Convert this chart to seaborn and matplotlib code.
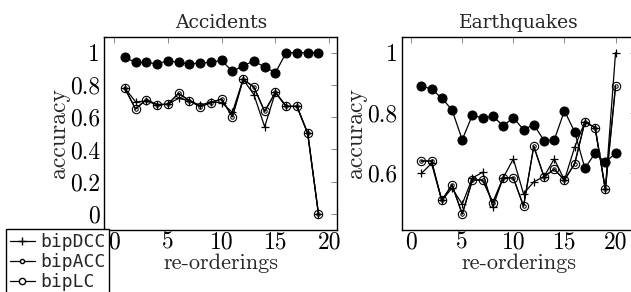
import matplotlib
matplotlib.use("Agg")
import matplotlib.pyplot as plt
import seaborn as sns
import pandas as pd
from matplotlib.ticker import FuncFormatter
from matplotlib.lines import Line2D

sns.set_style("white")
plt.rcParams["font.family"] = ["cmr10", "DejaVu Serif"]
plt.rcParams["axes.formatter.use_mathtext"] = True

# ---------------- data ----------------
acc_x = list(range(1, 20))
acc_top = [0.971, 0.940, 0.940, 0.930, 0.950, 0.940, 0.930, 0.936, 0.940, 0.952,
           0.884, 0.919, 0.948, 0.911, 0.876, 1.0, 1.0, 1.0, 1.0]
acc_dcc = [0.781, 0.696, 0.700, 0.678, 0.680, 0.717, 0.703, 0.674, 0.696, 0.690,
           0.630, 0.835, 0.740, 0.541, 0.754, 0.667, 0.667, 0.500, 0.0]
acc_acc = [0.781, 0.651, 0.709, 0.678, 0.680, 0.748, 0.703, 0.665, 0.690, 0.713,
           0.603, 0.835, 0.787, 0.636, 0.754, 0.667, 0.667, 0.500, 0.0]
acc_lc = [0.781, 0.651, 0.709, 0.678, 0.680, 0.748, 0.703, 0.665, 0.690, 0.713,
          0.603, 0.835, 0.787, 0.636, 0.754, 0.667, 0.667, 0.500, 0.0]

eq_x = list(range(1, 21))
eq_top = [0.890, 0.879, 0.849, 0.810, 0.711, 0.793, 0.782, 0.789, 0.757, 0.784,
          0.744, 0.761, 0.708, 0.710, 0.807, 0.737, 0.616, 0.666, 0.636, 0.666]
eq_dcc = [0.599, 0.632, 0.509, 0.550, 0.497, 0.584, 0.603, 0.488, 0.584, 0.647,
          0.531, 0.571, 0.588, 0.647, 0.577, 0.686, 0.770, 0.751, 0.546, 1.0]
eq_acc = [0.640, 0.640, 0.509, 0.561, 0.464, 0.577, 0.577, 0.502, 0.584, 0.584,
          0.490, 0.689, 0.588, 0.613, 0.577, 0.631, 0.770, 0.751, 0.546, 0.889]
eq_lc = [0.640, 0.640, 0.509, 0.561, 0.464, 0.577, 0.577, 0.502, 0.584, 0.584,
         0.490, 0.689, 0.588, 0.613, 0.577, 0.631, 0.770, 0.751, 0.546, 0.889]

titles = ["Accidents", "Earthquakes"]
legend_labels = ["bipDCC", "bipACC", "bipLC"]

W, H = 631, 292
fig = plt.figure(figsize=(W / 100, H / 100), dpi=100)

def px_axes(x0, y0, x1, y1):
    return fig.add_axes([x0 / W, 1 - y1 / H, (x1 - x0) / W, (y1 - y0) / H])

ax1 = px_axes(104.3, 36.7, 337.3, 230)
ax2 = px_axes(401.7, 36.7, 636, 230)

fmt = FuncFormatter(lambda v, p: ("%g" % round(v, 3)))

def draw(ax, x, top, dcc, acc, lc):
    lw = 0.9
    sns.lineplot(x=x, y=top, ax=ax, color="black", lw=lw, marker="o",
                 markersize=6.5, markerfacecolor="black", markeredgecolor="black")
    sns.lineplot(x=x, y=lc, ax=ax, color="black", lw=lw, marker="o",
                 markersize=6, markerfacecolor="none", markeredgecolor="black",
                 markeredgewidth=0.8)
    sns.lineplot(x=x, y=acc, ax=ax, color="black", lw=lw, marker="o",
                 markersize=2.5, markerfacecolor="none", markeredgecolor="black",
                 markeredgewidth=0.7)
    sns.lineplot(x=x, y=dcc, ax=ax, color="black", lw=lw, marker="+",
                 markersize=6, markeredgecolor="black", markeredgewidth=0.9)

draw(ax1, acc_x, acc_top, acc_dcc, acc_acc, acc_lc)
draw(ax2, eq_x, eq_top, eq_dcc, eq_acc, eq_lc)

ax1.set_xlim(-0.9, 20.75)
ax1.set_ylim(-0.099, 1.099)
ax1.set_yticks([0, 0.2, 0.4, 0.6, 0.8, 1.0])
ax2.set_xlim(-0.92, 22.0)
ax2.set_ylim(0.411, 1.053)
ax2.set_yticks([0.6, 0.8, 1.0])

for ax, t in zip([ax1, ax2], titles):
    ax.set_xticks([0, 5, 10, 15, 20])
    ax.xaxis.set_major_formatter(fmt)
    ax.yaxis.set_major_formatter(fmt)
    ax.tick_params(direction="in", length=4, width=0.6, color="#777777",
                   top=True, right=True, labelsize=17, pad=3,
                   labelcolor="black")
    ax.tick_params(axis="x", pad=1)
    for s in ax.spines.values():
        s.set_visible(True)
        s.set_linewidth(1.0)
        s.set_color("black")
    ax.set_xlabel("re-orderings", fontsize=16, labelpad=0)
    ax.set_ylabel("accuracy", fontsize=17, labelpad=0)
    ax.set_title(t, fontsize=13.5, family="DejaVu Serif", pad=6)
    ax.grid(False)

handles = [
    Line2D([], [], color="black", lw=0.9, marker="+", markersize=6),
    Line2D([], [], color="black", lw=0.9, marker="o", markersize=3,
           markerfacecolor="white"),
    Line2D([], [], color="black", lw=0.9, marker="o", markersize=4.5,
           markerfacecolor="white"),
]
leg = fig.legend(handles, legend_labels, loc="upper left",
                 bbox_to_anchor=(6 / W, 1 - 229.5 / H), borderaxespad=0,
                 prop={"family": "DejaVu Sans Mono", "size": 13},
                 handlelength=1.4, handletextpad=0.3, labelspacing=0.12,
                 borderpad=0.2, fancybox=False, framealpha=1,
                 edgecolor="black")
leg.get_frame().set_linewidth(1.0)

fig.savefig("out.png", dpi=100)
